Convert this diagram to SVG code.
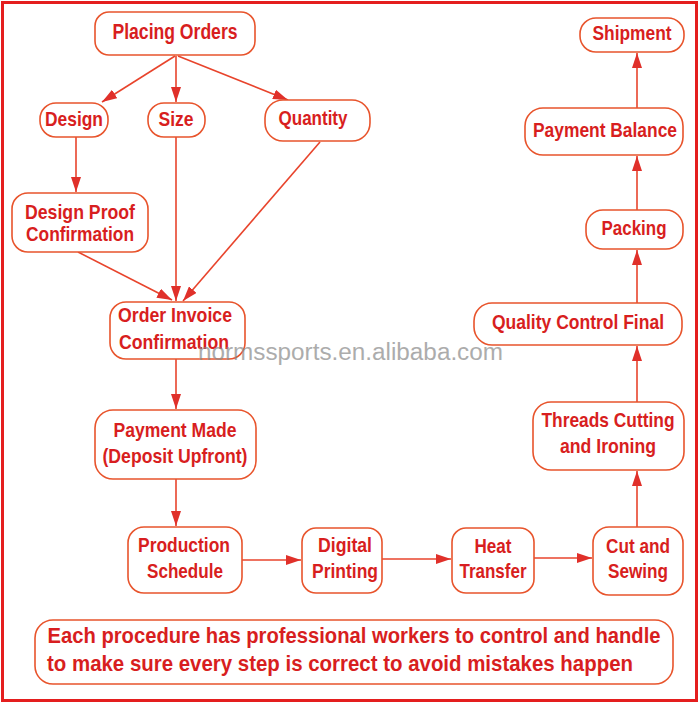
<svg xmlns="http://www.w3.org/2000/svg" width="700" height="704" viewBox="0 0 700 704">
<style>
.box{fill:#fff;stroke:#e8542c;stroke-width:1.6}
.t{font-family:"Liberation Sans",Arial,sans-serif;font-weight:bold;font-size:21px;fill:#d81e20;text-anchor:middle}
.c{fill:none;stroke:#e8442c;stroke-width:1.6}
.wm{font-family:"Liberation Sans",Arial,sans-serif;font-size:23px;fill:#8a8a8a;opacity:0.7}
</style>
<defs>
<marker id="ah" viewBox="0 0 15 10" refX="15" refY="5" markerWidth="15" markerHeight="10" markerUnits="userSpaceOnUse" orient="auto">
<path d="M0,0 L15,5 L0,10 z" fill="#e0302a"/>
</marker>
</defs>
<rect x="0" y="0" width="700" height="704" fill="#fff"/>
<rect x="2.5" y="2.5" width="694" height="698" fill="none" stroke="#e41e1e" stroke-width="3"/>

<g id="connectors">
<path class="c" d="M175,56 L102,102" marker-end="url(#ah)"/>
<path class="c" d="M176,56 L176,102" marker-end="url(#ah)"/>
<path class="c" d="M178,56 L288,100" marker-end="url(#ah)"/>
<path class="c" d="M76,137 L76,192" marker-end="url(#ah)"/>
<path class="c" d="M176,137 L176,301" marker-end="url(#ah)"/>
<path class="c" d="M320,142 L183,301" marker-end="url(#ah)"/>
<path class="c" d="M78,252 L172,300" marker-end="url(#ah)"/>
<path class="c" d="M176,359 L176,409" marker-end="url(#ah)"/>
<path class="c" d="M176,479 L176,526" marker-end="url(#ah)"/>
<path class="c" d="M242,560 L301,560" marker-end="url(#ah)"/>
<path class="c" d="M380,559 L451,559" marker-end="url(#ah)"/>
<path class="c" d="M534,558 L592,558" marker-end="url(#ah)"/>
<path class="c" d="M637,527 L637,471" marker-end="url(#ah)"/>
<path class="c" d="M637,402 L637,346" marker-end="url(#ah)"/>
<path class="c" d="M637,303 L637,250" marker-end="url(#ah)"/>
<path class="c" d="M637,210 L637,156" marker-end="url(#ah)"/>
<path class="c" d="M637,108 L637,53" marker-end="url(#ah)"/>
</g>

<g id="placing-orders">
<rect class="box" x="95" y="12" width="160" height="43" rx="14"/>
<text class="t" x="175" y="39" style="font-size:22px" textLength="125" lengthAdjust="spacingAndGlyphs">Placing Orders</text>
</g>
<g id="design">
<rect class="box" x="40" y="103" width="68" height="34" rx="16"/>
<text class="t" x="74" y="126" textLength="58" lengthAdjust="spacingAndGlyphs">Design</text>
</g>
<g id="size">
<rect class="box" x="148" y="103" width="57" height="34" rx="16"/>
<text class="t" x="176" y="126" textLength="35" lengthAdjust="spacingAndGlyphs">Size</text>
</g>
<g id="quantity">
<rect class="box" x="265" y="100" width="105" height="41" rx="18"/>
<text class="t" x="313" y="125" textLength="69" lengthAdjust="spacingAndGlyphs">Quantity</text>
</g>
<g id="design-proof">
<rect class="box" x="12" y="193" width="136" height="59" rx="16"/>
<text class="t" x="80" y="219" textLength="110" lengthAdjust="spacingAndGlyphs">Design Proof</text>
<text class="t" x="80" y="241" textLength="108" lengthAdjust="spacingAndGlyphs">Confirmation</text>
</g>
<g id="order-invoice">
<rect class="box" x="110" y="302" width="135" height="57" rx="16"/>
<text class="t" x="175" y="322" textLength="114" lengthAdjust="spacingAndGlyphs">Order Invoice</text>
<text class="t" x="174" y="349" textLength="110" lengthAdjust="spacingAndGlyphs">Confirmation</text>
</g>
<g id="payment-made">
<rect class="box" x="95" y="410" width="161" height="69" rx="18"/>
<text class="t" x="175" y="437" textLength="123" lengthAdjust="spacingAndGlyphs">Payment Made</text>
<text class="t" x="175" y="463" textLength="145" lengthAdjust="spacingAndGlyphs">(Deposit Upfront)</text>
</g>
<g id="production-schedule">
<rect class="box" x="128" y="527" width="114" height="66" rx="16"/>
<text class="t" x="184" y="552" textLength="92" lengthAdjust="spacingAndGlyphs">Production</text>
<text class="t" x="185" y="578" textLength="76" lengthAdjust="spacingAndGlyphs">Schedule</text>
</g>
<g id="digital-printing">
<rect class="box" x="302" y="528" width="80" height="65" rx="14"/>
<text class="t" x="345" y="552" textLength="54" lengthAdjust="spacingAndGlyphs">Digital</text>
<text class="t" x="345" y="578" textLength="66" lengthAdjust="spacingAndGlyphs">Printing</text>
</g>
<g id="heat-transfer">
<rect class="box" x="452" y="528" width="82" height="65" rx="14"/>
<text class="t" x="493" y="553" textLength="37" lengthAdjust="spacingAndGlyphs">Heat</text>
<text class="t" x="493" y="578" textLength="67" lengthAdjust="spacingAndGlyphs">Transfer</text>
</g>
<g id="cut-sewing">
<rect class="box" x="593" y="527" width="90" height="68" rx="16"/>
<text class="t" x="638" y="553" textLength="64" lengthAdjust="spacingAndGlyphs">Cut and</text>
<text class="t" x="638" y="578" textLength="60" lengthAdjust="spacingAndGlyphs">Sewing</text>
</g>
<g id="threads-cutting">
<rect class="box" x="533" y="402" width="151" height="68" rx="18"/>
<text class="t" x="608" y="427" textLength="133" lengthAdjust="spacingAndGlyphs">Threads Cutting</text>
<text class="t" x="608" y="453" textLength="96" lengthAdjust="spacingAndGlyphs">and Ironing</text>
</g>
<g id="quality-control">
<rect class="box" x="474" y="303" width="208" height="42" rx="18"/>
<text class="t" x="578" y="329" textLength="172" lengthAdjust="spacingAndGlyphs">Quality Control Final</text>
</g>
<g id="packing">
<rect class="box" x="586" y="210" width="97" height="39" rx="17"/>
<text class="t" x="634" y="235" textLength="65" lengthAdjust="spacingAndGlyphs">Packing</text>
</g>
<g id="payment-balance">
<rect class="box" x="525" y="108" width="158" height="47" rx="18"/>
<text class="t" x="605" y="137" textLength="144" lengthAdjust="spacingAndGlyphs">Payment Balance</text>
</g>
<g id="shipment">
<rect class="box" x="580" y="18" width="104" height="34" rx="16"/>
<text class="t" x="632" y="40" textLength="79" lengthAdjust="spacingAndGlyphs">Shipment</text>
</g>
<g id="note">
<rect class="box" x="35" y="620" width="638" height="64" rx="18"/>
<text class="t" x="354" y="643" style="font-size:22px" textLength="613" lengthAdjust="spacingAndGlyphs">Each procedure has professional workers to control and handle</text>
<text class="t" x="340" y="671" style="font-size:22px" textLength="586" lengthAdjust="spacingAndGlyphs">to make sure every step is correct to avoid mistakes happen</text>
</g>
<text class="wm" x="198" y="360" textLength="305" lengthAdjust="spacingAndGlyphs">normssports.en.alibaba.com</text>
</svg>
